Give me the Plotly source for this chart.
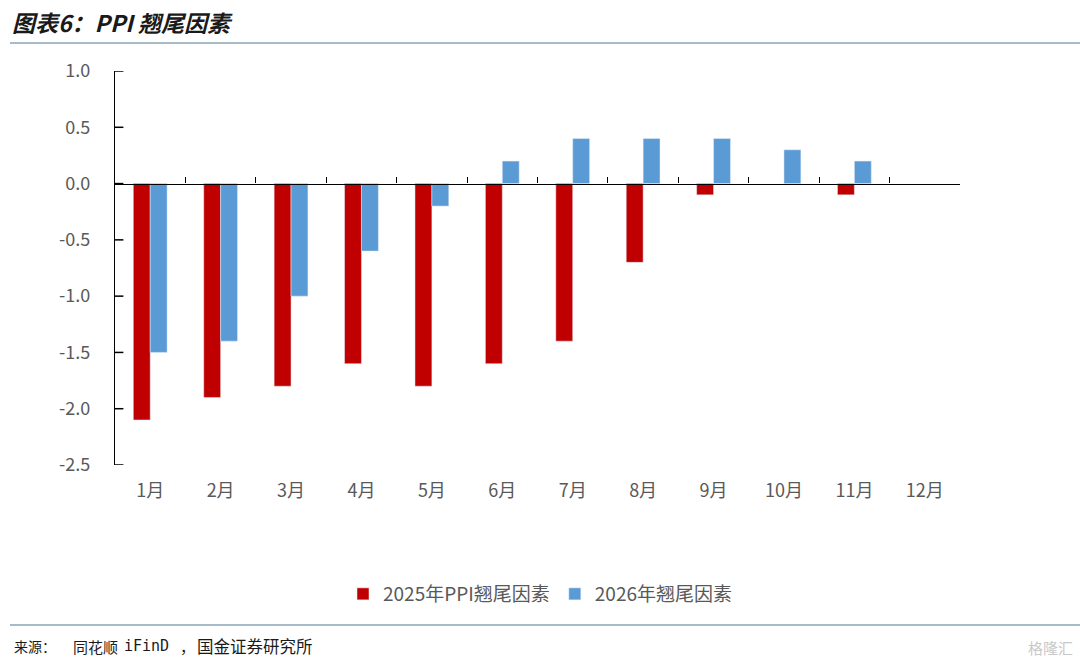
import plotly.graph_objects as go

months = ["1月", "2月", "3月", "4月", "5月", "6月", "7月", "8月", "9月", "10月", "11月", "12月"]
ppi_2025 = [-2.1, -1.9, -1.8, -1.6, -1.8, -1.6, -1.4, -0.7, -0.1, None, -0.1, None]
tail_2026 = [-1.5, -1.4, -1.0, -0.6, -0.2, 0.2, 0.4, 0.4, 0.4, 0.3, 0.2, None]
y_ticks = [1.0, 0.5, 0.0, -0.5, -1.0, -1.5, -2.0, -2.5]

W, H = 1080, 665
L, R, T, B = 115, 960, 71, 465


def px(x):
    return (x - L) / (R - L)


def py(y):
    return (B - y) / (B - T)


FONT = "Noto Sans CJK SC"
GRAY = "#595959"

fig = go.Figure()
fig.add_trace(go.Bar(x=months, y=ppi_2025, name="2025年PPI翘尾因素", marker_color="#C00000"))
fig.add_trace(go.Bar(x=months, y=tail_2026, name="2026年翘尾因素", marker_color="#5B9BD5"))

n = len(months)
yrange = [-2.5, 1.0]
fig.update_layout(
    width=W, height=H,
    margin=dict(l=L, r=W - R, t=T, b=H - B),
    paper_bgcolor="white", plot_bgcolor="white",
    barmode="group", bargap=0.52, bargroupgap=0,
    font=dict(family=FONT, color=GRAY),
    xaxis=dict(type="category", range=[-0.5, n - 0.5], showline=False, ticks="",
               showgrid=False, tickfont=dict(size=18, color=GRAY), ticklabelstandoff=13),
    xaxis2=dict(overlaying="x", anchor="free", position=2.5 / 3.5, range=[-0.5, n - 0.5],
                tickmode="array", tickvals=[i - 0.5 for i in range(n + 1)],
                showticklabels=False, ticks="inside", ticklen=6, tickwidth=1.3, tickcolor="black",
                showline=True, linecolor="black", linewidth=1.3, showgrid=False, zeroline=False),
    yaxis=dict(range=yrange, tickmode="array", tickvals=y_ticks,
               ticktext=[f"{v:.1f}" for v in y_ticks], ticks="", showline=True,
               linecolor="black", linewidth=1.3, showgrid=False, zeroline=False,
               tickfont=dict(size=18, color=GRAY), ticklabelstandoff=20),
    legend=dict(orientation="h", x=0.5, xanchor="center", xref="container",
                y=1 - 594 / H, yanchor="middle", yref="container",
                font=dict(size=19, color=GRAY), itemwidth=30, traceorder="normal"),
    showlegend=True,
)
# y-axis tick marks pointing into the plot (left half clipped at the axis)
fig.add_trace(go.Scatter(x=[-0.5] * len(y_ticks), y=y_ticks, xaxis="x2", mode="markers",
                         marker=dict(symbol="line-ew", size=12,
                                     line=dict(color="black", width=1.5)),
                         cliponaxis=True, showlegend=False, hoverinfo="skip"))

fig.add_annotation(text="<b><i>图表6：PPI 翘尾因素</i></b>", xref="paper", yref="paper",
                   x=px(10), y=py(22), xanchor="left", yanchor="middle", showarrow=False,
                   font=dict(size=23, color="#1a1a1a", family=FONT))
fig.add_shape(type="line", xref="paper", yref="paper", x0=px(10), x1=px(1080),
              y0=py(43), y1=py(43), line=dict(color="#8AA4B6", width=1.5))
fig.add_shape(type="line", xref="paper", yref="paper", x0=px(10), x1=px(1080),
              y0=py(625), y1=py(625), line=dict(color="#8AA4B6", width=1.5))

source_parts = [("来源：", 12, 14), ("同花顺", 71, 15), ("iFinD", 122, 15),
                ("，", 178, 15), ("国金证券研究所", 195, 16.5)]
for txt, x0, sz in source_parts:
    fig.add_annotation(text=txt, xref="paper", yref="paper",
                       x=px(x0), y=py(646), xanchor="left", yanchor="middle", showarrow=False,
                       font=dict(size=sz, color="#1a1a1a",
                                 family="DejaVu Sans Mono" if txt == "iFinD" else FONT))
fig.add_annotation(text="格隆汇", xref="paper", yref="paper",
                   x=px(1075), y=py(647), xanchor="right", yanchor="middle", showarrow=False,
                   font=dict(size=15, color="#c8c8c8", family=FONT))

fig.write_html("out.html", config={"displayModeBar": False},
               post_script="document.body.style.margin='0';")
